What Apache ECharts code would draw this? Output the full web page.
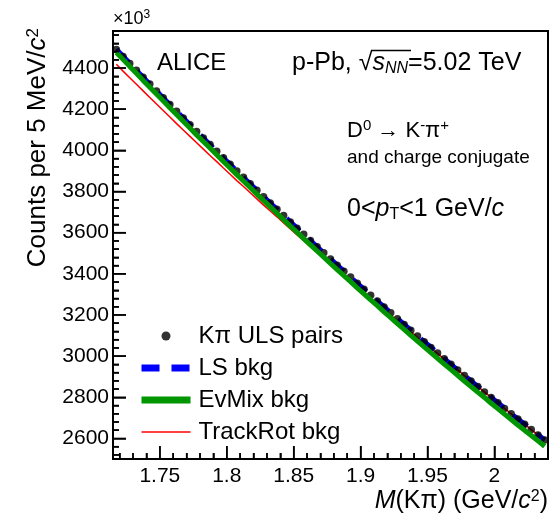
<!DOCTYPE html>
<html>
<head>
<meta charset="utf-8">
<script src="https://cdn.jsdelivr.net/npm/echarts@6/dist/echarts.min.js"></script>
<style>
html,body{margin:0;padding:0;background:#fff;}
#c{width:551px;height:518px;}
</style>
</head>
<body>
<div id="c"></div>
<script>
// ---- data (counts in units of 10^3 per 5 MeV/c^2) ----
const mass = [1.7175,1.7225,1.7275,1.7325,1.7375,1.7425,1.7475,1.7525,1.7575,1.7625,
  1.7675,1.7725,1.7775,1.7825,1.7875,1.7925,1.7975,1.8025,1.8075,1.8125,
  1.8175,1.8225,1.8275,1.8325,1.8375,1.8425,1.8475,1.8525,1.8575,1.8625,
  1.8675,1.8725,1.8775,1.8825,1.8875,1.8925,1.8975,1.9025,1.9075,1.9125,
  1.9175,1.9225,1.9275,1.9325,1.9375,1.9425,1.9475,1.9525,1.9575,1.9625,
  1.9675,1.9725,1.9775,1.9825,1.9875,1.9925,1.9975,2.0025,2.0075,2.0125,
  2.0175,2.0225,2.0275,2.0325,2.0375];
const ulsPairs = [4490,4456,4422,4389,4355,4322,4289,4256,4223,4190,
  4157,4125,4092,4060,4028,3996,3964,3932,3900,3869,
  3838,3806,3775,3744,3714,3683,3652,3622,3592,3562,
  3532,3502,3472,3442,3413,3384,3354,3325,3296,3268,
  3239,3211,3182,3154,3126,3098,3070,3042,3015,2987,
  2960,2933,2906,2879,2852,2826,2799,2773,2746,2720,
  2694,2669,2643,2617,2592];
const lsBkg = [4491,4457,4423,4388,4355,4321,4289,4255,4222,4190,
  4157,4124,4092,4060,4027,3996,3963,3932,3900,3868,
  3837,3806,3775,3744,3713,3683,3652,3622,3591,3562,
  3531,3502,3472,3442,3413,3383,3354,3325,3296,3267,
  3239,3211,3182,3154,3126,3098,3070,3043,3015,2988,
  2960,2933,2906,2879,2853,2826,2800,2773,2747,2720,
  2695,2669,2643,2618,2592];
const evMixBkg = [4476,4442,4408,4375,4340,4307,4274,4241,4207,4174,
  4141,4109,4075,4043,4011,3979,3946,3914,3882,3851,
  3819,3787,3756,3725,3694,3663,3632,3602,3571,3541,
  3511,3481,3450,3420,3391,3362,3331,3302,3273,3245,
  3215,3187,3158,3130,3101,3073,3045,3017,2989,2961,
  2934,2907,2879,2852,2825,2799,2771,2745,2718,2692,
  2665,2640,2614,2588,2562];
const trackRotBkg = [4418,4385,4353,4321,4289,4257,4225,4194,4162,4130,
  4099,4068,4037,4006,3975,3945,3914,3884,3853,3824,
  3794,3764,3734,3705,3677,3647,3618,3589,3561,3532,
  3504,3475,3447,3418,3391,3363,3334,3307,3279,3253,
  3225,3199,3171,3144,3118,3091,3065,3038,3012,2985,
  2959,2933,2906,2879,2852,2826,2799,2773,2746,2720,
  2694,2669,2643,2617,2592];
const xTickValues = [1.75, 1.8, 1.85, 1.9, 1.95, 2.0];
const xTickLabels = ['1.75', '1.8', '1.85', '1.9', '1.95', '2'];
const yTickValues = [2600, 2800, 3000, 3200, 3400, 3600, 3800, 4000, 4200, 4400];
const yTickLabels = ['2600', '2800', '3000', '3200', '3400', '3600', '3800', '4000', '4200', '4400'];
const seriesNames = ['K\u03c0 ULS pairs', 'LS bkg', 'EvMix bkg', 'TrackRot bkg'];

const FONT = 'Liberation Sans, Arial, Helvetica, sans-serif';
const X_MIN = 1.715, X_MAX = 2.04;
const Y_MIN = 2500, Y_MAX = 4580;

// minor tick positions (axis decoration): 5 subdivisions per major step
const xMinor = [];
for (let k = 172; k <= 203; k++) if (k % 5 !== 0) xMinor.push(k / 100);
const yMinor = [];
for (let v = 2520; v <= 4560; v += 40) if (v % 200 !== 0) yMinor.push(v);
// [x, y, tick length px, direction (0 = up from x axis, 1 = right from y axis)]
const tickItems = [].concat(
  xTickValues.map(v => [v, Y_MIN, 13, 0]), xMinor.map(v => [v, Y_MIN, 6, 0]),
  yTickValues.map(v => [X_MIN, v, 13, 1]), yMinor.map(v => [X_MIN, v, 6, 1]));

const pairs = arr => mass.map((m, i) => [m, arr[i]]);
const hideSym = {color: 'rgba(0,0,0,0)', opacity: 0, borderWidth: 0};
const fmtX = v => { const s = String(+(+v).toFixed(2)); return xTickLabels.indexOf(s) >= 0 ? s : ''; };
const fmtY = v => { const s = String(Math.round(v)); return yTickLabels.indexOf(s) >= 0 ? s : ''; };

const chart = echarts.init(document.getElementById('c'), null, {renderer: 'canvas'});
chart.setOption({
  animation: false,
  grid: {left: 113, right: 3, top: 31, bottom: 59, show: true, borderColor: '#000', borderWidth: 2},
  xAxis: {
    type: 'value', min: X_MIN, max: X_MAX, splitNumber: 5,
    axisLine: {show: true, lineStyle: {color: '#000', width: 2}},
    axisTick: {show: true, inside: true, length: 13, lineStyle: {color: '#000', width: 1.5}},
    minorTick: {show: true, splitNumber: 5, length: 6, lineStyle: {color: '#000', width: 1.5}},
    axisLabel: {color: '#000', fontSize: 21, fontFamily: FONT, margin: 7, showMinLabel: false, showMaxLabel: false,
      formatter: fmtX},
    splitLine: {show: false}
  },
  yAxis: {
    type: 'value', min: Y_MIN, max: Y_MAX, splitNumber: 10,
    axisLine: {show: true, lineStyle: {color: '#000', width: 2}},
    axisTick: {show: true, inside: true, length: 13, lineStyle: {color: '#000', width: 1.5}},
    minorTick: {show: true, splitNumber: 5, length: 6, lineStyle: {color: '#000', width: 1.5}},
    axisLabel: {color: '#000', fontSize: 21, fontFamily: FONT, margin: 4, showMinLabel: false, showMaxLabel: false,
      formatter: fmtY},
    splitLine: {show: false}
  },
  legend: {
    orient: 'vertical', left: 138, top: 324, padding: 0, itemWidth: 49, itemHeight: 9, itemGap: 8,
    textStyle: {color: '#000', fontSize: 24, fontFamily: FONT, lineHeight: 24, padding: [0, 0, 0, 3]},
    data: [
      {name: seriesNames[0], icon: 'circle'},
      {name: seriesNames[1], lineStyle: {width: 7, type: [18, 12], cap: 'butt'}, itemStyle: hideSym},
      {name: seriesNames[2], lineStyle: {width: 7, cap: 'butt'}, itemStyle: hideSym},
      {name: seriesNames[3], lineStyle: {width: 1.5}, itemStyle: hideSym}
    ]
  },
  series: [{
    name: seriesNames[3], type: 'line', data: pairs(trackRotBkg), symbol: 'none', showSymbol: false,
    lineStyle: {color: '#ff0000', width: 1.5}, itemStyle: {color: '#ff0000'}, z: 2
  }, {
    name: seriesNames[1], type: 'line', data: pairs(lsBkg), symbol: 'none', showSymbol: false,
    lineStyle: {color: '#0000ff', width: 5, type: [18, 12], cap: 'butt'}, itemStyle: {color: '#0000ff'}, z: 3
  }, {
    name: seriesNames[0], type: 'scatter', data: pairs(ulsPairs), symbol: 'circle', symbolSize: 7.5,
    itemStyle: {color: '#000'}, z: 4
  }, {
    name: seriesNames[2], type: 'line', data: pairs(evMixBkg), symbol: 'none', showSymbol: false,
    lineStyle: {color: '#009600', width: 5}, itemStyle: {color: '#009600'}, z: 5
  }, {
    name: 'ticks', type: 'custom', z: 6, clip: false, silent: true,
    data: tickItems,
    encode: {x: 0, y: 1},
    renderItem: function (params, api) {
      const p = api.coord([api.value(0), api.value(1)]);
      const len = api.value(2), dir = api.value(3);
      const shape = dir === 1 ? {x1: p[0], y1: p[1], x2: p[0] + len, y2: p[1]}
                              : {x1: p[0], y1: p[1], x2: p[0], y2: p[1] - len};
      return {type: 'line', shape: shape, style: {stroke: '#000', lineWidth: 1.5}};
    }
  }],
  graphic: [
    {type: 'text', x: 548, y: 489, style: {text: '{i|M}(K\u03c0) (GeV/{i|c}{s|2})', fill: '#000', font: '25px ' + FONT,
      align: 'right', verticalAlign: 'top',
      rich: {i: {fontStyle: 'italic', fontSize: 25, fontFamily: FONT, fill: '#000'},
             s: {fontSize: 16, fontFamily: FONT, fill: '#000', verticalAlign: 'top', padding: [0, 0, 8, 0]}}}},
    {type: 'text', x: 38, y: 28, rotation: Math.PI / 2, style: {text: 'Counts per 5 MeV/{i|c}{s|2}', fill: '#000', font: '26px ' + FONT,
      align: 'right', verticalAlign: 'middle',
      rich: {i: {fontStyle: 'italic', fontSize: 26, fontFamily: FONT, fill: '#000'},
             s: {fontSize: 17, fontFamily: FONT, fill: '#000', verticalAlign: 'top', padding: [0, 0, 8, 0]}}}},
    {type: 'text', x: 113, y: 29, style: {text: '\u00d710{s|3}', fill: '#000', font: '18px ' + FONT, verticalAlign: 'bottom',
      rich: {s: {fontSize: 12, fontFamily: FONT, fill: '#000', verticalAlign: 'top', padding: [0, 0, 8, 0]}}}},
    {type: 'text', x: 157, y: 63, style: {text: 'ALICE', fill: '#000', font: '24px ' + FONT, verticalAlign: 'middle'}},
    {type: 'text', x: 292, y: 63, style: {text: 'p-Pb, \u221a{i|s}{sub|NN}=5.02 TeV', fill: '#000', font: '25px ' + FONT, verticalAlign: 'middle',
      rich: {i: {fontStyle: 'italic', fontSize: 25, fontFamily: FONT, fill: '#000'},
             sub: {fontStyle: 'italic', fontSize: 16, fontFamily: FONT, fill: '#000', padding: [11, 0, 0, 0]}}}},
    {type: 'line', shape: {x1: 371, y1: 50.5, x2: 411, y2: 50.5}, style: {stroke: '#000', lineWidth: 1.5}},
    {type: 'text', x: 347, y: 131, style: {text: 'D{s|0} \u2192 K{s|-}\u03c0{s|+}', fill: '#000', font: '22px ' + FONT, verticalAlign: 'middle',
      rich: {s: {fontSize: 15, fontFamily: FONT, fill: '#000', padding: [0, 0, 10, 0]}}}},
    {type: 'text', x: 347, y: 158, style: {text: 'and charge conjugate', fill: '#000', font: '19px ' + FONT, verticalAlign: 'middle'}},
    {type: 'text', x: 347, y: 209, style: {text: '0<{i|p}{sub|T}<1 GeV/{i|c}', fill: '#000', font: '25px ' + FONT, verticalAlign: 'middle',
      rich: {i: {fontStyle: 'italic', fontSize: 25, fontFamily: FONT, fill: '#000'},
             sub: {fontSize: 16, fontFamily: FONT, fill: '#000', padding: [11, 0, 0, 0]}}}}
  ]
});
</script>
</body>
</html>
